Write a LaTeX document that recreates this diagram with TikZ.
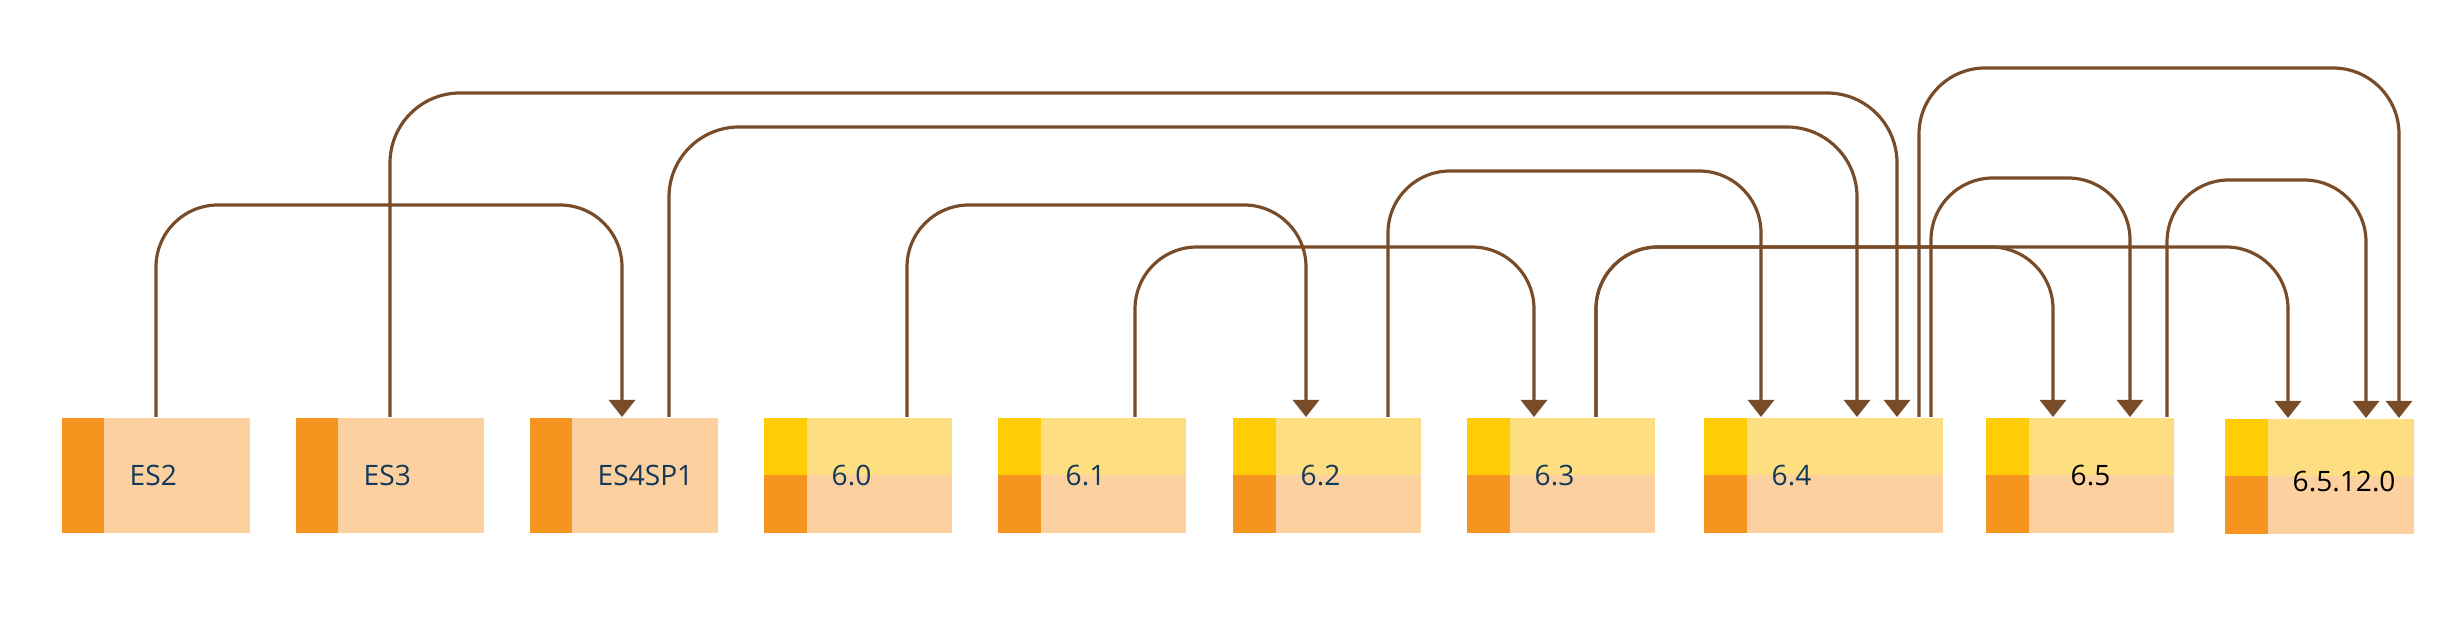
\documentclass[tikz,border=0pt]{standalone}
\usepackage{fontspec}
\setmainfont{Open Sans}
\usepackage{tikz}
\usetikzlibrary{arrows.meta}

\definecolor{linkbrown}{RGB}{120,76,40}
\definecolor{esdark}{RGB}{246,148,32}
\definecolor{eslight}{RGB}{252,208,159}
\definecolor{verdark}{RGB}{255,205,5}
\definecolor{verlight}{RGB}{253,222,128}
\definecolor{labelnavy}{RGB}{18,56,90}

\tikzset{
  esbox/.style={anchor=north west, minimum width=1.88cm, minimum height=1.15cm,
    inner sep=0pt, fill=eslight,
    path picture={\fill[esdark] (path picture bounding box.north west)
      rectangle ([xshift=0.42cm]path picture bounding box.south west);}},
  verbox/.style={anchor=north west, minimum width=1.88cm, minimum height=1.15cm,
    inner sep=0pt, fill=eslight,
    path picture={
      \fill[verlight] (path picture bounding box.north west)
        rectangle (path picture bounding box.east);
      \fill[verdark] (path picture bounding box.north west)
        rectangle ([xshift=0.43cm]path picture bounding box.west);
      \fill[esdark] (path picture bounding box.west)
        rectangle ([xshift=0.43cm]path picture bounding box.south west);}},
  lbl/.style={anchor=west, inner sep=0pt, xshift=0.68cm, text=labelnavy,
    font=\fontsize{8}{9}\selectfont},
  tag/.style={label={[lbl]west:#1}},
  link/.style={draw=linkbrown, line width=0.9pt, rounded corners=0.62cm,
    ->, >={Triangle[width=0.26cm, length=0.17cm]}}
}

\begin{document}
\begin{tikzpicture}
\useasboundingbox (0,0) rectangle (24.5,-6.3);

\node[esbox, tag=ES2] (es2) at (0.61,-4.17) {};
\node[esbox, tag=ES3] (es3) at (2.95,-4.17) {};
\node[esbox, tag=ES4SP1] (es4sp1) at (5.29,-4.17) {};

\node[verbox, tag=6.0] (v60) at (7.63,-4.17) {};
\node[verbox, tag=6.1] (v61) at (9.97,-4.17) {};
\node[verbox, tag=6.2] (v62) at (12.32,-4.17) {};
\node[verbox, tag=6.3] (v63) at (14.66,-4.17) {};
\node[verbox, tag=6.4, minimum width=2.39cm] (v64) at (17.03,-4.17) {};
\node[verbox, label={[lbl, xshift=0.17cm, text=black]west:6.5}] (v65) at (19.85,-4.17) {};
\node[verbox, minimum width=1.89cm,
  label={[lbl, yshift=-0.05cm, text=black]west:6.5.12.0}] (v6512) at (22.24,-4.18) {};

\draw[link] ([xshift=0.95cm]es2.north west) -- ++(0,2.12)
  -| ([xshift=0.93cm]es4sp1.north west);

\draw[link, rounded corners=0.7cm] ([xshift=0.95cm]es3.north west) -- ++(0,3.24)
  -| ([xshift=1.94cm]v64.north west);

\draw[link, rounded corners=0.7cm] ([xshift=1.40cm]es4sp1.north west) -- ++(0,2.90)
  -| ([xshift=1.54cm]v64.north west);

\draw[link] ([xshift=1.44cm]v60.north west) -- ++(0,2.12)
  -| ([xshift=0.74cm]v62.north west);

\draw[link] ([xshift=1.38cm]v61.north west) -- ++(0,1.70)
  -| ([xshift=0.68cm]v63.north west);

\draw[link] ([xshift=1.56cm]v62.north west) -- ++(0,2.46)
  -| ([xshift=0.58cm]v64.north west);

\draw[link] ([xshift=1.30cm]v63.north west) -- ++(0,1.70)
  -| ([xshift=0.68cm]v65.north west);

\draw[link] ([xshift=1.30cm]v63.north west) -- ++(0,1.70)
  -| ([xshift=0.64cm]v6512.north west);

\draw[link] ([xshift=2.28cm]v64.north west) -- ++(0,2.39)
  -| ([xshift=1.45cm]v65.north west);

\draw[link, rounded corners=0.66cm] ([xshift=2.16cm]v64.north west) -- ++(0,3.49)
  -| ([xshift=1.75cm]v6512.north west);

\draw[link] ([xshift=1.82cm]v65.north west) -- ++(0,2.37)
  -| ([xshift=1.42cm]v6512.north west);

\end{tikzpicture}
\end{document}
